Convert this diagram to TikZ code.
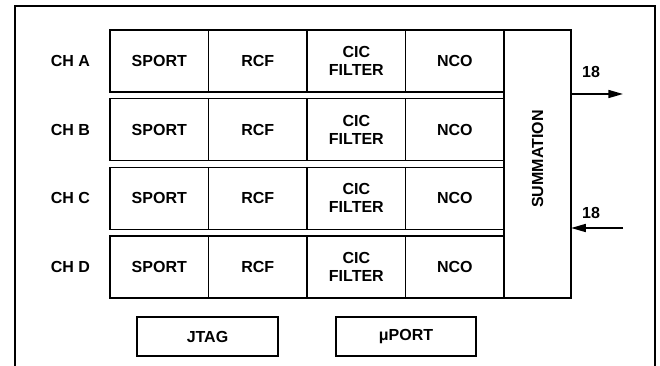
\documentclass[tikz,border=0pt]{standalone}
\usepackage{fontspec}
\setmainfont{Liberation Sans}
\usetikzlibrary{chains, positioning, arrows.meta}

\begin{document}
\begin{tikzpicture}[
  x=0.75pt, y=-0.75pt,
  node distance = 0pt,
  box/.style = {
      draw, line width=1.2pt, rectangle, inner sep=0pt, outer sep=0pt,
      font=\fontsize{12}{13.5}\selectfont\bfseries, align=center
  },
  cell/.style = {box, minimum width=73.9pt, minimum height=46.5pt},
  chan/.style = {font=\fontsize{12}{13.5}\selectfont\bfseries},
  bus/.style = {line width=1.2pt, -{Triangle[length=11pt, width=6pt]}}
]
  \useasboundingbox (0,0) rectangle (660,366);
  % frame, open at the bottom
  \draw[line width=1.3pt] (15,366) |- (655,6) -- (655,366);

  % the four channels
  \foreach \ch [count=\i from 0] in {A,B,C,D} {
    \begin{scope}[start chain = going right]
      \node[cell, on chain, anchor=north west] (sport\ch) at (110,{30+68.67*\i}) {SPORT};
      \node[cell, on chain] (rcf\ch) {\raisebox{-2pt}{RCF}};
      \node[cell, on chain] (cic\ch) {CIC\\FILTER};
      \node[cell, on chain] (nco\ch) {NCO};
    \end{scope}
    \node[chan, left=11.5pt of sport\ch] (ch\ch) {CH \ch};
  }

  % summation block
  \node[box, anchor=north west, minimum width=50.25pt, minimum height=201pt]
    (sum) at (ncoA.north east) {\rotatebox{90}{\hspace{7.5pt}SUMMATION}};

  % 18-bit output and input
  \coordinate (outR) at (623,94);
  \coordinate (inR) at (623,228);
  \draw[bus] (outR -| sum.east) -- (outR);
  \draw[bus] (inR) -- (inR -| sum.east);
  \node[chan] (outW) at (591,72) {18};
  \node[chan] (inW) at (591,213) {18};

  % control ports
  \node[box, minimum width=105.75pt, minimum height=29.25pt] (jtag) at (207.5,336.5) {JTAG};
  \node[box, minimum width=105pt, minimum height=29.25pt] (uport) at (406,336.5) {μPORT};
\end{tikzpicture}
\end{document}
